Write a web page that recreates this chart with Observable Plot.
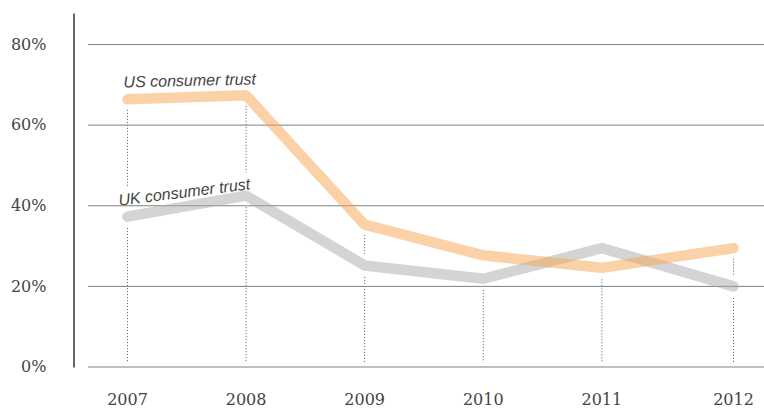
<!DOCTYPE html>
<html>
<head>
<meta charset="utf-8">
<script src="https://cdn.jsdelivr.net/npm/d3@7"></script>
<script src="https://cdn.jsdelivr.net/npm/@observablehq/plot@0.6"></script>
<style>
  html, body { margin: 0; padding: 0; background: #fff; }
</style>
</head>
<body>
<div id="chart"></div>
<script>
// Survey time (fractional year) for each observation
const surveyTime = [2007, 2008, 2009, 2010, 2011, 2012.11];
const yearLabels = ["2007", "2008", "2009", "2010", "2011", "2012"];
const usTrust = [66.4, 67.4, 35.3, 27.7, 24.6, 29.5];
const ukTrust = [37.3, 42.5, 25.2, 21.9, 29.5, 20.0];
const yTicks = [0, 20, 40, 60, 80];
const seriesNames = ["US consumer trust", "UK consumer trust"];

const us = surveyTime.map((t, i) => ({t, v: usTrust[i]}));
const uk = surveyTime.map((t, i) => ({t, v: ukTrust[i]}));
const pairs = surveyTime.map((t, i) => ({t, lo: Math.min(usTrust[i], ukTrust[i]), hi: Math.max(usTrust[i], ukTrust[i])}));
const upperPairs = pairs.filter(d => d.hi - d.lo > 6);
const years = surveyTime.map((t, i) => ({t, label: yearLabels[i]}));

const serif = "DejaVu Serif";
const sans = "Liberation Sans";

const chart = Plot.plot({
  width: 764,
  height: 408,
  marginLeft: 88,
  marginRight: 0,
  marginTop: 14,
  marginBottom: 42,
  x: {type: "linear", domain: [2007, 2012.11], range: [127, 733], axis: null},
  y: {domain: [0, 80], range: [366.5, 44], axis: null},
  marks: [
    // dotted drop lines
    Plot.ruleX(pairs, {x: "t", y1: "lo", y2: 0, stroke: "#555", strokeWidth: 1, strokeDasharray: "1,2", insetTop: 12, insetBottom: 4}),
    Plot.ruleX(upperPairs, {x: "t", y1: "hi", y2: "lo", stroke: "#555", strokeWidth: 1, strokeDasharray: "1,2", insetTop: 11, insetBottom: 11}),
    // series labels
    Plot.text([us[0]], {x: "t", y: "v", text: () => seriesNames[0], textAnchor: "start", lineAnchor: "middle", dx: -4, dy: -17, rotate: -1.3, fontFamily: sans, fontStyle: "italic", fontSize: 16, fill: "#444", stroke: "#fff", strokeWidth: 10, paintOrder: "stroke"}),
    Plot.text([uk[0]], {x: "t", y: "v", text: () => seriesNames[1], textAnchor: "start", lineAnchor: "middle", dx: -9, dy: -16, rotate: -7.2, fontFamily: sans, fontStyle: "italic", fontSize: 16, fill: "#444", stroke: "#fff", strokeWidth: 14, paintOrder: "stroke"}),
    // gridlines
    Plot.ruleY(yTicks, {stroke: "#808080", strokeWidth: 1}),
    // left axis line
    Plot.frame({anchor: "left", dx: -14.5, stroke: "#666", strokeWidth: 2}),
    // y tick labels
    Plot.text(yTicks, {y: d => d, text: d => d + "%", frameAnchor: "left", dx: -42, textAnchor: "end", lineAnchor: "middle", fontFamily: serif, fontSize: 16, fill: "#444"}),
    // x tick labels
    Plot.text(years, {x: "t", text: "label", frameAnchor: "bottom", dy: 33, lineAnchor: "middle", fontFamily: serif, fontSize: 16, fill: "#444"}),
    // lines
    Plot.line(uk, {x: "t", y: "v", stroke: "#aaaaaa", strokeOpacity: 0.5, strokeWidth: 10.5, strokeLinecap: "round", strokeLinejoin: "miter"}),
    Plot.line(us, {x: "t", y: "v", stroke: "#f7a550", strokeOpacity: 0.5, strokeWidth: 10.5, strokeLinecap: "round", strokeLinejoin: "miter"})
  ]
});
document.getElementById("chart").appendChild(chart);
</script>
</body>
</html>
